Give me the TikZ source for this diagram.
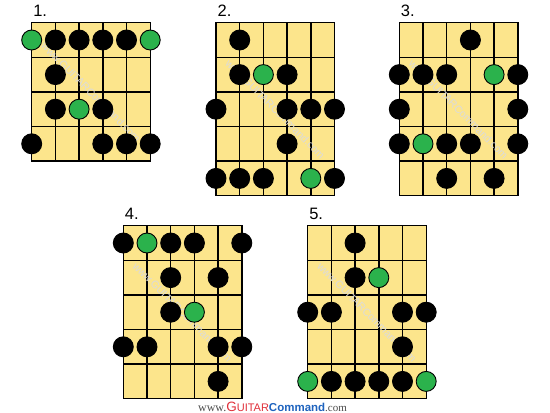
\documentclass[tikz,border=0pt]{standalone}
\usepackage{fontspec}
\setmainfont{Liberation Serif}
\setsansfont{Liberation Sans}

\definecolor{fretboard}{HTML}{FCE58C}
\definecolor{rootgreen}{HTML}{2BB24C}
\definecolor{gcred}{HTML}{E0303A}
\definecolor{gcblue}{HTML}{1E63BE}

\tikzset{
	board/.style = {fill = fretboard, draw = black, line width = 1.4pt},
	fret/.style = {line width = 1.4pt},
	note/.style = {circle, fill = black, draw = black, line width = 0.9pt,
		minimum size = 20pt, inner sep = 0pt},
	root/.style = {note, fill = rootgreen},
	number/.style = {anchor = base west, inner sep = 0pt,
		font = \sffamily\fontsize{16.5}{16}\selectfont},
	watermark/.style = {rotate = -45, text = black!14, inner sep = 0pt,
		font = \sffamily\fontsize{10.5}{10}\selectfont}
}

\begin{document}
\begin{tikzpicture}[x = 1pt, y = -1pt]

	\useasboundingbox (0, 0) rectangle (550, 413);

	% Boxes (number, top left corner, frets)

	\foreach \num/\bx/\by/\nr in {1/31.7/22.7/4, 2/216/22.7/5, 3/399.3/22.7/5,
		4/123.3/225.7/5, 5/307.7/225.7/5}
	{
		\begin{scope}[shift = {(\bx, \by)}, x = 23.7pt, y = -34.6pt]
			\draw [board] (0, 0) rectangle (5, \nr);
			\foreach \s in {1, ..., 4} \draw [fret] (\s, 0) -- (\s, \nr);
			\pgfmathtruncatemacro{\last}{\nr - 1}
			\foreach \f in {1, ..., \last} \draw [fret] (0, \f) -- (5, \f);
			\node [number] (num\num) at (0.06, -0.17) {\num.};
			\node [watermark] (mark\num) at (2.5, \nr / 2) {www.GUITARCommand.com};
		\end{scope}
	}

	% Notes (string/fret)

	\begin{scope}[shift = {(31.7, 22.7)}, x = 23.7pt, y = -34.6pt]
		\foreach \s/\r in {2/1, 3/1, 4/1, 5/1, 2/2, 2/3, 4/3, 1/4, 4/4, 5/4, 6/4}
			\node [note] (a\s\r) at (\s - 1, \r - 0.5) {};
		\foreach \s/\r in {1/1, 6/1, 3/3}
			\node [root] (a\s\r) at (\s - 1, \r - 0.5) {};
	\end{scope}

	\begin{scope}[shift = {(216, 22.7)}, x = 23.7pt, y = -34.6pt]
		\foreach \s/\r in {2/1, 2/2, 4/2, 1/3, 4/3, 5/3, 6/3, 4/4, 1/5, 2/5, 3/5, 6/5}
			\node [note] (b\s\r) at (\s - 1, \r - 0.5) {};
		\foreach \s/\r in {3/2, 5/5}
			\node [root] (b\s\r) at (\s - 1, \r - 0.5) {};
	\end{scope}

	\begin{scope}[shift = {(399.3, 22.7)}, x = 23.7pt, y = -34.6pt]
		\foreach \s/\r in {4/1, 1/2, 2/2, 3/2, 6/2, 1/3, 6/3, 1/4, 3/4, 4/4, 6/4, 3/5, 5/5}
			\node [note] (c\s\r) at (\s - 1, \r - 0.5) {};
		\foreach \s/\r in {5/2, 2/4}
			\node [root] (c\s\r) at (\s - 1, \r - 0.5) {};
	\end{scope}

	\begin{scope}[shift = {(123.3, 225.7)}, x = 23.7pt, y = -34.6pt]
		\foreach \s/\r in {1/1, 3/1, 4/1, 6/1, 3/2, 5/2, 3/3, 1/4, 2/4, 5/4, 6/4, 5/5}
			\node [note] (d\s\r) at (\s - 1, \r - 0.5) {};
		\foreach \s/\r in {2/1, 4/3}
			\node [root] (d\s\r) at (\s - 1, \r - 0.5) {};
	\end{scope}

	\begin{scope}[shift = {(307.7, 225.7)}, x = 23.7pt, y = -34.6pt]
		\foreach \s/\r in {3/1, 3/2, 1/3, 2/3, 5/3, 6/3, 5/4, 2/5, 3/5, 4/5, 5/5}
			\node [note] (e\s\r) at (\s - 1, \r - 0.5) {};
		\foreach \s/\r in {4/2, 1/5, 6/5}
			\node [root] (e\s\r) at (\s - 1, \r - 0.5) {};
	\end{scope}

	% Footer

	\node [inner sep = 0pt] (footer) at (272.5, 406.5)
		{{\fontsize{12}{11}\selectfont\color{black!70}www.}%
		{\sffamily\color{gcred}{\fontsize{13.5}{13}\selectfont G}%
		{\fontsize{11}{11}\selectfont UITAR}}%
		{\sffamily\bfseries\fontsize{11.5}{11}\selectfont\color{gcblue}Command}%
		{\fontsize{11}{11}\selectfont\color{black!70}.com}};

\end{tikzpicture}
\end{document}
